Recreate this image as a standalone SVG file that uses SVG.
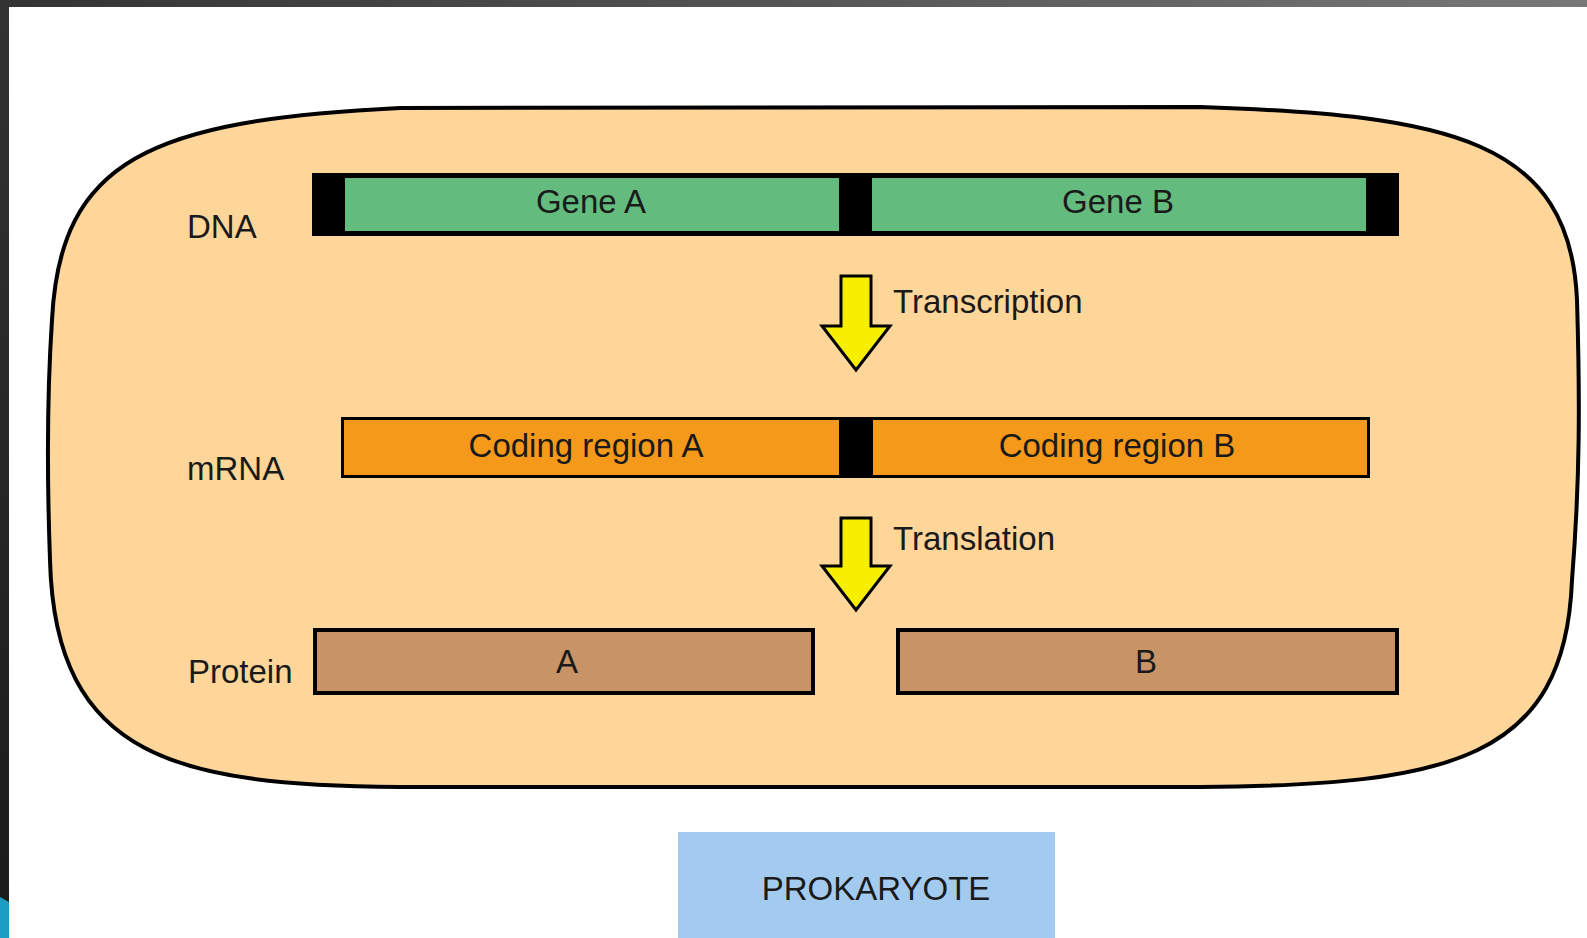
<svg xmlns="http://www.w3.org/2000/svg" width="1587" height="938" viewBox="0 0 1587 938">
  <defs>
    <linearGradient id="topbar" x1="0" y1="0" x2="1" y2="0">
      <stop offset="0" stop-color="#333333"/>
      <stop offset="1" stop-color="#787878"/>
    </linearGradient>
    <linearGradient id="leftbar" x1="0" y1="0" x2="0" y2="1">
      <stop offset="0" stop-color="#333333"/>
      <stop offset="1" stop-color="#1a1a1a"/>
    </linearGradient>
  </defs>
  <style>
    text { font-family: "Liberation Sans", Arial, sans-serif; font-size: 33px; fill: #1a1a1a; }
    .mid { text-anchor: middle; }
    .cell { fill: #fed69a; stroke: #000; stroke-width: 4; }
    .gene { fill: #63bb7e; }
    .mrna { fill: #f4991a; stroke: #000; stroke-width: 3; }
    .prot { fill: #c99465; stroke: #000; stroke-width: 4; }
    .arrow { fill: #f7ee00; stroke: #000; stroke-width: 3; stroke-linejoin: miter; }
  </style>
  <rect x="0" y="0" width="1587" height="938" fill="#ffffff"/>
  <rect x="0" y="0" width="1587" height="7" fill="url(#topbar)"/>
  <rect x="0" y="0" width="9" height="938" fill="url(#leftbar)"/>
  <polygon points="0,897 9,902 9,938 0,938" fill="#1d9cc4"/>

  <g id="cell">
    <path class="cell" d="M 400,108 L 1200,107 C 1450,115 1570,140 1577,300 C 1580,400 1580,480 1572,580 C 1565,760 1450,785 1200,787 L 400,787 C 180,785 55,760 50,560 C 46,450 48,380 52,320 C 60,160 150,120 400,108 Z"/>
  </g>

  <g id="dna">
    <rect x="312" y="173" width="1087" height="63" fill="#000"/>
    <rect class="gene" x="345" y="178" width="494" height="53"/>
    <rect class="gene" x="872" y="178" width="494" height="53"/>
    <text class="mid" x="591" y="213">Gene A</text>
    <text class="mid" x="1118" y="213">Gene B</text>
  </g>
  <text id="label-dna" x="187" y="238">DNA</text>

  <g id="mrna">
    <rect class="mrna" x="342.5" y="418.5" width="1026" height="58"/>
    <rect x="839" y="417" width="34" height="61" fill="#000"/>
    <text class="mid" x="586" y="457">Coding region A</text>
    <text class="mid" x="1117" y="457">Coding region B</text>
  </g>
  <text id="label-mrna" x="187" y="480">mRNA</text>

  <g id="protein-a">
    <rect class="prot" x="315" y="630" width="498" height="63"/>
    <text class="mid" x="567" y="673">A</text>
  </g>
  <g id="protein-b">
    <rect class="prot" x="898" y="630" width="499" height="63"/>
    <text class="mid" x="1146" y="673">B</text>
  </g>
  <text id="label-protein" x="188" y="683">Protein</text>

  <g id="connectors">
    <path class="arrow" d="M 841,276 L 871,276 L 871,326 L 890,326 L 856,370 L 822,326 L 841,326 Z"/>
    <path class="arrow" d="M 841,518 L 871,518 L 871,566 L 890,566 L 856,610 L 822,566 L 841,566 Z"/>
    <text x="893" y="313">Transcription</text>
    <text x="893" y="550">Translation</text>
  </g>

  <g id="prokaryote">
    <rect x="678" y="832" width="377" height="106" fill="#a3cbf0"/>
    <text class="mid" x="876" y="900">PROKARYOTE</text>
  </g>
</svg>
